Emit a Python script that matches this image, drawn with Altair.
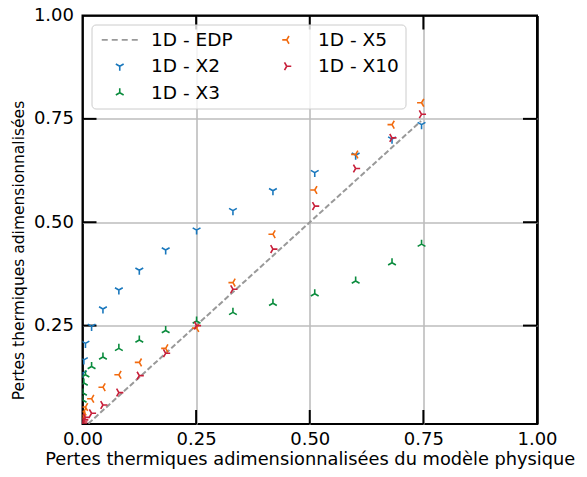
import altair as alt
import pandas as pd

# ---- data ----
x_vals = [0.0003, 0.001, 0.003, 0.0065, 0.02, 0.045, 0.08, 0.125, 0.183,
          0.251, 0.331, 0.419, 0.511, 0.601, 0.681, 0.746]
y_x2 = [None, 0.135, 0.167, 0.207, 0.248, 0.290, 0.336, 0.384, 0.433,
        0.481, 0.528, 0.576, 0.620, 0.662, 0.701, 0.736]
y_x3 = [0.070, 0.087, 0.111, 0.131, 0.151, 0.174, 0.195, 0.215, 0.238,
        0.261, 0.282, 0.304, 0.327, 0.358, 0.402, 0.447]
y_x5 = [0.025, 0.033, 0.042, 0.053, 0.073, 0.101, 0.131, 0.161, 0.195,
        0.244, 0.354, 0.471, 0.578, 0.664, 0.736, 0.789]
y_x10 = [0.012, 0.017, 0.022, 0.028, 0.038, 0.058, 0.088, 0.129, 0.183,
         0.250, 0.338, 0.435, 0.539, 0.630, 0.704, 0.761]
edp_x = [0.0, 0.745]
edp_y = [0.0, 0.745]

series_names = ["1D - X2", "1D - X3", "1D - X5", "1D - X10"]
series_values = [y_x2, y_x3, y_x5, y_x10]

legend_order = ["1D - EDP", "1D - X2", "1D - X3", "1D - X5", "1D - X10"]
legend_colors = ["#999999", "#1a78bd", "#0b8c3e", "#f26b0f", "#c81f3a"]

TRI_DOWN = "M0,0L0,1M0,0L-0.866,-0.5M0,0L0.866,-0.5"
TRI_UP = "M0,0L0,-1M0,0L-0.866,0.5M0,0L0.866,0.5"
TRI_LEFT = "M0,0L-1,0M0,0L0.5,-0.866M0,0L0.5,0.866"
TRI_RIGHT = "M0,0L1,0M0,0L-0.5,-0.866M0,0L-0.5,0.866"
DASHED = "M-4,0L-2.67,0M-1.78,0L-0.45,0M0.44,0L1.77,0M2.67,0L4,0"
legend_shapes = [DASHED, TRI_DOWN, TRI_UP, TRI_LEFT, TRI_RIGHT]

x_ticks = [0.0, 0.25, 0.5, 0.75, 1.0]
y_ticks = [0.25, 0.5, 0.75, 1.0]
inner_ticks = [0.25, 0.5, 0.75]

rows = []
for name, ys in zip(series_names, series_values):
    for x, y in zip(x_vals, ys):
        if y is not None:
            rows.append({"series": name, "x": x, "y": y})
df = pd.DataFrame(rows)
edp_df = pd.DataFrame({"x": edp_x, "y": edp_y})
tick_df = pd.DataFrame({"v": inner_ticks})

W, H = 454.5, 408.5
FONT = "DejaVu Sans"
TL = 14

xscale = alt.Scale(domain=[0, 1], nice=False, zero=False)
yscale = alt.Scale(domain=[0.012, 1], nice=False, zero=False)

grid_col = alt.condition("datum.value <= 0 || datum.value >= 1",
                         alt.value("black"), alt.value("#bdbdbd"))

xaxis = alt.Axis(values=x_ticks, format=".2f", ticks=False, domain=False,
                 grid=True, gridColor=grid_col, gridWidth=1.6,
                 labelFontSize=18, labelPadding=6, labelColor="black",
                 labelFlush=False,
                 title="Pertes thermiques adimensionnalisées du modèle physique",
                 titleFontSize=17.8, titleFontWeight="normal", titleColor="black",
                 titlePadding=2)
yaxis = alt.Axis(values=y_ticks, format=".2f", ticks=False, domain=False,
                 grid=True, gridColor=grid_col, gridWidth=1.6,
                 labelFontSize=18, labelPadding=9, labelColor="black",
                 labelFlush=False,
                 title="Pertes thermiques adimensionnalisées",
                 titleFontSize=15.5, titleFontWeight="normal", titleColor="black",
                 titlePadding=7, titleY=234.5)

legend = alt.Legend(title=None, orient="top-left", offset=9, columns=2,
                    columnPadding=31, rowPadding=7.5, padding=6,
                    symbolOffset=13, labelOffset=22, symbolSize=81,
                    symbolStrokeWidth=1.6, labelFontSize=18.5, labelFont=FONT,
                    labelColor="black", fillColor="rgba(255,255,255,0.8)",
                    strokeColor="#cccccc", cornerRadius=4)

line = alt.Chart(edp_df).mark_line(color="#999999", strokeDash=[5.5, 2.5],
                                   strokeWidth=2, clip=True).encode(
    x=alt.X("x:Q", scale=xscale, axis=xaxis),
    y=alt.Y("y:Q", scale=yscale, axis=yaxis),
)

bottom_ticks = alt.Chart(tick_df).mark_rule(color="black", strokeWidth=2).encode(
    x=alt.X("v:Q", scale=xscale), y=alt.value(H), y2=alt.value(H - TL))
top_ticks = alt.Chart(tick_df).mark_rule(color="black", strokeWidth=2).encode(
    x=alt.X("v:Q", scale=xscale), y=alt.value(0), y2=alt.value(TL))
left_ticks = alt.Chart(tick_df).mark_rule(color="black", strokeWidth=2).encode(
    y=alt.Y("v:Q", scale=yscale), x=alt.value(0), x2=alt.value(TL))
right_ticks = alt.Chart(tick_df).mark_rule(color="black", strokeWidth=2).encode(
    y=alt.Y("v:Q", scale=yscale), x=alt.value(W), x2=alt.value(W - TL))

points = alt.Chart(df).mark_point(filled=False, size=81, strokeWidth=1.6,
                                  opacity=1, clip=True).encode(
    x=alt.X("x:Q", scale=xscale),
    y=alt.Y("y:Q", scale=yscale),
    color=alt.Color("series:N", scale=alt.Scale(domain=legend_order, range=legend_colors),
                    legend=legend),
    shape=alt.Shape("series:N", scale=alt.Scale(domain=legend_order, range=legend_shapes),
                    legend=legend),
)

chart = alt.layer(line, bottom_ticks, top_ticks, left_ticks, right_ticks, points).properties(
    width=W, height=H,
    autosize=alt.AutoSizeParams(type="none"),
    padding={"left": 74.5, "top": 7.5, "right": 42, "bottom": 45},
).configure(font=FONT).configure_view(stroke="black", strokeWidth=2)

chart.save("out.html", embed_options={"renderer": "svg", "actions": False})
